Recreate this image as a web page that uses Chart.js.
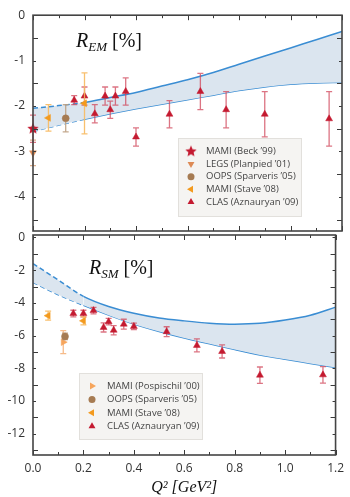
<!DOCTYPE html>
<html>
<head>
<meta charset="utf-8">
<script src="https://cdn.jsdelivr.net/npm/chart.js@4.4.1/dist/chart.umd.min.js"></script>
<style>
  html, body { margin: 0; padding: 0; background: #fff; }
  #wrap { position: relative; width: 350px; height: 497px; }
  #wrap canvas { position: absolute; left: 0; top: 0; }
</style>
</head>
<body>
<div id="wrap">
  <canvas id="em-chart" width="350" height="497"></canvas>
  <canvas id="sm-chart" width="350" height="497"></canvas>
</div>
<script>
// ---- data ----
const bandQ = [0.0, 0.1, 0.2, 0.3, 0.4, 0.5, 0.6, 0.7, 0.8, 0.9, 1.0, 1.1, 1.2];
const emUpper = [-2.05, -1.99, -1.92, -1.81, -1.70, -1.56, -1.42, -1.26, -1.08, -0.90, -0.72, -0.54, -0.36];
const emLower = [-2.56, -2.42, -2.29, -2.17, -2.06, -1.96, -1.86, -1.76, -1.66, -1.58, -1.52, -1.49, -1.48];
const smUpper = [-1.60, -2.60, -3.60, -4.22, -4.63, -4.92, -5.10, -5.24, -5.30, -5.25, -5.05, -4.75, -4.26];
const smLower = [-2.75, -3.50, -4.15, -4.75, -5.30, -5.75, -6.15, -6.50, -6.85, -7.18, -7.45, -7.70, -7.95];

const clasQ = [0.16, 0.20, 0.24, 0.28, 0.30, 0.32, 0.36, 0.40, 0.53, 0.65, 0.75, 0.90, 1.15];
const clasEM = [-1.87, -1.78, -2.17, -1.78, -2.08, -1.78, -1.68, -2.68, -2.18, -1.68, -2.08, -2.18, -2.28];
const clasEMErr = [0.10, 0.20, 0.20, 0.20, 0.19, 0.20, 0.30, 0.20, 0.30, 0.40, 0.40, 0.50, 0.60];
const clasSM = [-4.65, -4.65, -4.47, -5.50, -5.15, -5.67, -5.30, -5.44, -5.76, -6.60, -6.97, -8.42, -8.40];
const clasSMErr = [0.20, 0.20, 0.20, 0.28, 0.20, 0.28, 0.30, 0.20, 0.30, 0.40, 0.40, 0.50, 0.50];

const beckQ = [0.0], beckEM = [-2.50], beckEMErr = [0.30];
const legsQ = [0.0], legsEM = [-3.03], legsEMErr = [0.28];
const oopsQ = [0.127], oopsEM = [-2.27], oopsEMErr = [0.30], oopsSM = [-6.05], oopsSMErr = [0.20];
const staveQ = [0.06, 0.20], staveEM = [-2.26, -1.94], staveEMErr = [0.29, 0.67];
const staveSM = [-4.78, -5.10], staveSMErr = [0.28, 0.25];
const pospQ = [0.12], pospSM = [-6.40], pospSMErr = [0.70];

const qTicks = [0.0, 0.2, 0.4, 0.6, 0.8, 1.0, 1.2];
const emTicks = [0, -1, -2, -3, -4];
const smTicks = [0, -2, -4, -6, -8, -10, -12];

// ---- colours ----
const crimson = '#c41a30', crimsonErr = 'rgba(208,70,90,0.75)';
const legsCol = '#dd8a55', legsErr = 'rgba(215,160,120,0.85)';
const oopsCol = '#a67b52', oopsErr = 'rgba(190,160,130,0.9)';
const staveCol = '#f39a1e', staveErr = 'rgba(247,185,95,0.9)';
const pospCol = '#f6a55c', pospErr = 'rgba(245,180,125,0.9)';
const lineBlue = '#3a8dd3', bandFill = '#dbe5ef';

function pts(qs, vs) { return qs.map((q, i) => ({x: q, y: vs[i]})); }

function makeStar(r, color) {
  const c = document.createElement('canvas');
  c.width = c.height = 2 * r + 2;
  const g = c.getContext('2d');
  g.fillStyle = color;
  g.beginPath();
  for (let i = 0; i < 10; i++) {
    const rad = i % 2 ? r * 0.45 : r;
    const ang = -Math.PI / 2 + i * Math.PI / 5;
    g.lineTo(r + 1 + rad * Math.cos(ang), r + 1 + rad * Math.sin(ang));
  }
  g.closePath();
  g.fill();
  return c;
}
const starImg = makeStar(6, crimson);

// error bars drawn just before each marker set
const errorBars = {
  id: 'errorBars',
  beforeDatasetDraw(chart, args) {
    const ds = chart.data.datasets[args.index];
    if (!ds.err) return;
    const {ctx} = chart, x = chart.scales.x, y = chart.scales.y;
    ctx.save();
    ctx.strokeStyle = ds.errColor;
    ctx.lineWidth = 1.3;
    ds.data.forEach((p, i) => {
      const px = x.getPixelForValue(p.x);
      const top = y.getPixelForValue(p.y + ds.err[i]);
      const bot = y.getPixelForValue(p.y - ds.err[i]);
      ctx.beginPath();
      ctx.moveTo(px, top); ctx.lineTo(px, bot);
      ctx.moveTo(px - 3, top); ctx.lineTo(px + 3, top);
      ctx.moveTo(px - 3, bot); ctx.lineTo(px + 3, bot);
      ctx.stroke();
    });
    ctx.restore();
  }
};

// frame with inward ticks on all four sides
function steps(a, b, s) { const out = []; for (let v = a; v <= b + 1e-9; v += s) out.push(+v.toFixed(3)); return out; }
const frameTicks = {
  id: 'frameTicks',
  afterDraw(chart, args, o) {
    const {ctx, chartArea: a} = chart, x = chart.scales.x, y = chart.scales.y;
    ctx.save();
    ctx.strokeStyle = '#3a3a3a';
    ctx.lineWidth = 1;
    const yTick = (v, len) => {
      const p = Math.round(y.getPixelForValue(v)) + 0.5;
      ctx.beginPath();
      ctx.moveTo(a.left, p); ctx.lineTo(a.left + len, p);
      ctx.moveTo(a.right, p); ctx.lineTo(a.right - len, p);
      ctx.stroke();
    };
    const xTick = (v, len) => {
      const p = Math.round(x.getPixelForValue(v)) + 0.5;
      ctx.beginPath();
      ctx.moveTo(p, a.bottom); ctx.lineTo(p, a.bottom - len);
      ctx.moveTo(p, a.top); ctx.lineTo(p, a.top + len);
      ctx.stroke();
    };
    steps(o.yFrom, 0, o.yMinor).forEach(v => yTick(v, 3));
    steps(o.yFrom, 0, o.yMajor).forEach(v => yTick(v, 5));
    steps(0, 1.2, 0.1).forEach(v => xTick(v, 3));
    steps(0, 1.2, 0.2).forEach(v => xTick(v, 5));
    ctx.lineWidth = 1.6;
    ctx.strokeStyle = '#444';
    ctx.strokeRect(a.left, a.top, a.width, a.height);
    // panel label, e.g. R_EM [%]
    ctx.fillStyle = '#111';
    ctx.textBaseline = 'alphabetic';
    ctx.font = 'italic 20px "Liberation Serif"';
    ctx.fillText('R', o.tx, o.ty);
    let w = ctx.measureText('R').width;
    ctx.font = 'italic 13px "Liberation Serif"';
    ctx.fillText(o.sub, o.tx + w, o.ty + 4);
    w += ctx.measureText(o.sub).width;
    ctx.font = '20px "Liberation Serif"';
    ctx.fillText(' [%]', o.tx + w, o.ty);
    ctx.restore();
  }
};

const boxLegend = {
  id: 'boxLegend',
  afterDatasetsDraw(chart, args, o) {
    const {ctx} = chart;
    ctx.save();
    ctx.fillStyle = '#f5f4f2';
    ctx.strokeStyle = '#e2e0dc';
    ctx.lineWidth = 1;
    ctx.fillRect(o.x, o.y, o.w, o.h);
    ctx.strokeRect(o.x + 0.5, o.y + 0.5, o.w, o.h);
    ctx.font = '9.5px "Liberation Sans Narrow", "Open Sans", sans-serif';
    ctx.textBaseline = 'middle';
    o.rows.forEach((r, i) => {
      const cy = o.y + o.first + i * o.gap;
      ctx.fillStyle = r.color;
      ctx.strokeStyle = r.color;
      Chart.helpers.drawPoint(ctx, {pointStyle: r.style, radius: r.radius, rotation: r.rotation || 0, borderWidth: 0}, o.x + o.mx, cy);
      ctx.fillStyle = '#444';
      ctx.fillText(r.label, o.x + o.lx, cy);
    });
    ctx.restore();
  }
};

function scatterSet(data, style, color, radius, rotation, err, errColor) {
  return {
    type: 'scatter', data, err, errColor, order: 0, clip: false,
    pointStyle: style, pointRadius: radius, pointRotation: rotation,
    pointBackgroundColor: color, pointBorderColor: color, pointBorderWidth: 0.5
  };
}

function bandSets(upper, lower) {
  const dash = c => c.p1.parsed.x <= 0.2001 ? [5, 3] : undefined;
  const common = {type: 'line', borderColor: lineBlue, borderWidth: 1.5, pointRadius: 0,
    cubicInterpolationMode: 'monotone', order: 5, segment: {borderDash: dash}};
  return [
    Object.assign({data: pts(bandQ, upper), fill: '+1', backgroundColor: bandFill}, common),
    Object.assign({data: pts(bandQ, lower), fill: false}, common)
  ];
}

function baseOptions(yMin, yMax, yTicks, showX, pad, xHeight) {
  return {
    responsive: false,
    animation: false,
    layout: {padding: pad},
    plugins: {legend: {display: false}, tooltip: {enabled: false}},
    scales: {
      x: {
        type: 'linear', min: 0, max: 1.2,
        grid: {display: false, drawTicks: false},
        border: {display: false},
        afterBuildTicks: s => { s.ticks = qTicks.map(v => ({value: v})); },
        afterFit: s => { s.height = xHeight; },
        ticks: {display: showX, padding: 6, color: '#333', font: {family: 'Open Sans', size: 12},
          callback: v => v.toFixed(1)},
        title: {display: showX, text: 'Q² [GeV²]', color: '#111', padding: {top: 0, bottom: 0},
          font: {family: 'Liberation Serif', size: 16, style: 'italic'}}
      },
      y: {
        min: yMin, max: yMax,
        grid: {display: false, drawTicks: false},
        border: {display: false},
        afterBuildTicks: s => { s.ticks = yTicks.map(v => ({value: v})); },
        afterFit: s => { s.width = 33; },
        ticks: {padding: 8, color: '#333', font: {family: 'Open Sans', size: 12}, callback: v => String(v)}
      }
    }
  };
}

// ---- top panel: R_EM ----
const emOpts = baseOptions(-4.75, 0, emTicks, false, {top: 11, right: 8, bottom: 263, left: 0}, 3);
emOpts.plugins.frameTicks = {yFrom: -4.5, yMinor: 0.5, yMajor: 1, tx: 76, ty: 47, sub: 'EM'};
emOpts.plugins.boxLegend = {
  x: 178, y: 138, w: 123, h: 78, first: 13.5, gap: 12.6, mx: 13, lx: 28,
  rows: [
    {label: 'MAMI (Beck ’99)', style: starImg, color: crimson, radius: 6},
    {label: 'LEGS (Planpied ’01)', style: 'triangle', rotation: 180, color: legsCol, radius: 4},
    {label: 'OOPS (Sparveris ’05)', style: 'circle', color: oopsCol, radius: 3.5},
    {label: 'MAMI (Stave ’08)', style: 'triangle', rotation: -90, color: staveCol, radius: 4},
    {label: 'CLAS (Aznauryan ’09)', style: 'triangle', color: crimson, radius: 4}
  ]
};
new Chart(document.getElementById('em-chart'), {
  data: {
    datasets: [
      scatterSet(pts(beckQ, beckEM), starImg, crimson, 6, 0, beckEMErr, crimsonErr),
      scatterSet(pts(legsQ, legsEM), 'triangle', legsCol, 4, 180, legsEMErr, legsErr),
      scatterSet(pts(oopsQ, oopsEM), 'circle', oopsCol, 3.5, 0, oopsEMErr, oopsErr),
      scatterSet(pts(staveQ, staveEM), 'triangle', staveCol, 4, -90, staveEMErr, staveErr),
      scatterSet(pts(clasQ, clasEM), 'triangle', crimson, 4, 0, clasEMErr, crimsonErr),
      ...bandSets(emUpper, emLower)
    ]
  },
  options: emOpts,
  plugins: [errorBars, boxLegend, frameTicks]
});

// ---- bottom panel: R_SM ----
const smOpts = baseOptions(-13.3, 0.15, smTicks, true, {top: 235, right: 8, bottom: 0, left: 0}, 42);
smOpts.plugins.frameTicks = {yFrom: -13, yMinor: 1, yMajor: 2, tx: 89, ty: 40 + 234, sub: 'SM'};
smOpts.plugins.boxLegend = {
  x: 79, y: 373, w: 123, h: 66, first: 13, gap: 13.4, mx: 13, lx: 28,
  rows: [
    {label: 'MAMI (Pospischil ’00)', style: 'triangle', rotation: 90, color: pospCol, radius: 4},
    {label: 'OOPS (Sparveris ’05)', style: 'circle', color: oopsCol, radius: 3.5},
    {label: 'MAMI (Stave ’08)', style: 'triangle', rotation: -90, color: staveCol, radius: 4},
    {label: 'CLAS (Aznauryan ’09)', style: 'triangle', color: crimson, radius: 4}
  ]
};
new Chart(document.getElementById('sm-chart'), {
  data: {
    datasets: [
      scatterSet(pts(oopsQ, oopsSM), 'circle', oopsCol, 3.5, 0, oopsSMErr, oopsErr),
      scatterSet(pts(pospQ, pospSM), 'triangle', pospCol, 4, 90, pospSMErr, pospErr),
      scatterSet(pts(staveQ, staveSM), 'triangle', staveCol, 4, -90, staveSMErr, staveErr),
      scatterSet(pts(clasQ, clasSM), 'triangle', crimson, 4, 0, clasSMErr, crimsonErr),
      ...bandSets(smUpper, smLower)
    ]
  },
  options: smOpts,
  plugins: [errorBars, boxLegend, frameTicks]
});
</script>
</body>
</html>
